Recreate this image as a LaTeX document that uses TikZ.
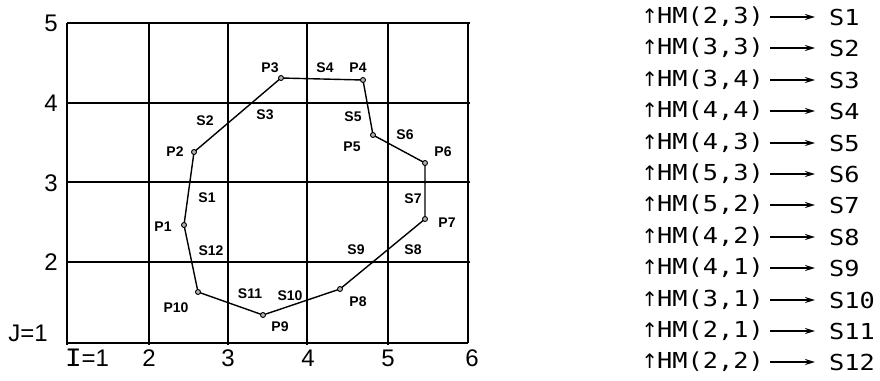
\documentclass[tikz,border=0pt]{standalone}
\usepackage{fontspec}
\setmainfont{Liberation Sans}
\newfontfamily\listfont{DejaVu Sans Mono}[FakeStretch=1.15]
\newfontfamily\arrowfont{DejaVu Sans}
\usetikzlibrary{arrows.meta}
\begin{document}
\begin{tikzpicture}[x=1pt,y=-1pt,
  gridthick/.style={line width=2pt},
  gridthin/.style={line width=1.4pt},
  poly/.style={line width=1.4pt},
  vtx/.style={circle,draw,line width=0.9pt,inner sep=0pt,minimum size=5pt,fill=gray!60},
  xdot/.style={circle,fill,inner sep=0pt,minimum size=3pt},
  plab/.style={font=\fontsize{14}{14}\selectfont\bfseries,inner sep=0pt},
  axlab/.style={font=\fontsize{24}{24}\selectfont,inner sep=0pt},
  hm/.style={font=\listfont\fontsize{22}{22}\selectfont,inner sep=0pt,anchor=east},
  sv/.style={font=\listfont\fontsize{22}{22}\selectfont,inner sep=0pt,anchor=west},
  maparrow/.style={line width=2pt,-{Stealth[length=10pt,width=6pt]}}]
\useasboundingbox (0,0) rectangle (880,380);

% grid
\draw[gridthick] (67,23) -- (470,23);
\draw[gridthick] (67,103) -- (470,103);
\draw[gridthin] (67,182) -- (470,182);
\draw[gridthin] (67,262) -- (470,262);
\draw[gridthick] (67,343) -- (468,343);
\draw[gridthick] (67,23) -- (67,345);
\foreach \x in {149,228,307,388} \draw[gridthick] (\x,23) -- (\x,345);
\draw[line width=1.2pt] (468,23) -- (468,343);

% axis labels
\node[axlab] (y5) at (51,23) {5};
\node[axlab] (y4) at (51,103) {4};
\node[axlab] (y3) at (51,183) {3};
\node[axlab] (y2) at (51,262) {2};
\node[axlab] (j1) at (28,333) {J=1};
\node[axlab] (i1) at (87,358) {{\listfont I}=1};
\node[axlab] (x2) at (149,358) {2};
\node[axlab] (x3) at (228,358) {3};
\node[axlab] (x4) at (308,358) {4};
\node[axlab] (x5) at (388,358) {5};
\node[axlab] (x6) at (472,358) {6};

% polygon
\coordinate (p1) at (184,225);
\coordinate (p2) at (194,152);
\coordinate (p3) at (281,78);
\coordinate (p4) at (363,80);
\coordinate (p5) at (373,135);
\coordinate (p6) at (425,163);
\coordinate (p7) at (425,219);
\coordinate (p8) at (340,289);
\coordinate (p9) at (263,315);
\coordinate (p10) at (198,292);
\draw[poly] (p1) -- (p2) -- (p3) -- (p4) -- (p5) -- (p6) -- (p7) -- (p8) -- (p9) -- (p10) -- cycle;
\foreach \i in {1,...,10} \node[vtx] (v\i) at (p\i) {};
\node[xdot] (c1) at (189.8,182) {};
\node[xdot] (c2) at (425,182) {};
\node[xdot] (c3) at (191.7,262) {};
\node[xdot] (c4) at (372.8,262) {};

% point labels
\node[plab] (lp1) at (163,227) {P1};
\node[plab] (lp2) at (175,152) {P2};
\node[plab] (lp3) at (270,68) {P3};
\node[plab] (lp4) at (358,68) {P4};
\node[plab] (lp5) at (352,147) {P5};
\node[plab] (lp6) at (443,152) {P6};
\node[plab] (lp7) at (447,223) {P7};
\node[plab] (lp8) at (358,302) {P8};
\node[plab] (lp9) at (280,327) {P9};
\node[plab] (lp10) at (176,308) {P10};
% segment labels
\node[plab] (ls1) at (207,198) {S1};
\node[plab] (ls2) at (205,121) {S2};
\node[plab] (ls3) at (265,115) {S3};
\node[plab] (ls4) at (325,68) {S4};
\node[plab] (ls5) at (353,117) {S5};
\node[plab] (ls6) at (405,135) {S6};
\node[plab] (ls7) at (413,199) {S7};
\node[plab] (ls8) at (413,250) {S8};
\node[plab] (ls9) at (356,250) {S9};
\node[plab] (ls10) at (290,296) {S10};
\node[plab] (ls11) at (250,294) {S11};
\node[plab] (ls12) at (211,251) {S12};

% mapping list
\foreach \a/\b/\s [count=\i] in {2/3/S1,3/3/S2,3/4/S3,4/4/S4,4/3/S5,5/3/S6,5/2/S7,4/2/S8,4/1/S9,3/1/S10,2/1/S11,2/2/S12} {
  \pgfmathsetmacro{\yy}{round(17+(\i-1)*31.4)}
  \node[hm] (hm\i) at (764,\yy) {{\arrowfont\fontsize{20}{20}\selectfont ↑}\kern-1pt HM(\a,\b)};
  \node[sv] (sv\i) at (829,\yy) {\s};
  \draw[maparrow] ([xshift=6pt]hm\i.east) -- ([xshift=-14pt]sv\i.west);
}
\end{tikzpicture}
\end{document}
